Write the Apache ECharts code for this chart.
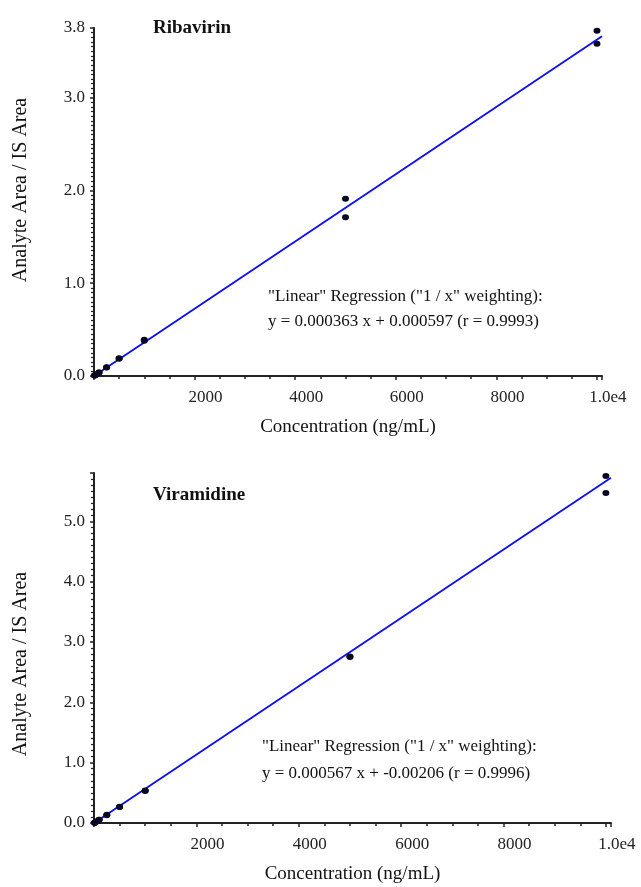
<!DOCTYPE html>
<html><head><meta charset="utf-8">
<script src="https://cdn.jsdelivr.net/npm/echarts@6/dist/echarts.min.js"></script>
<style>html,body{margin:0;padding:0;background:#fff}#c{width:641px;height:887px}</style>
</head><body><div id="c"></div>
<script>
// ---- data ----
const ribavirinConc  = [10, 10, 20, 20, 50, 50, 100, 100, 250, 250, 500, 500, 1000, 1000, 5000, 5000, 10000, 10000];
const ribavirinRatio = [0.0042, 0.0045, 0.0078, 0.0076, 0.019, 0.020, 0.037, 0.038, 0.094, 0.092, 0.19, 0.185, 0.39, 0.38, 1.91, 1.71, 3.72, 3.58];
const ribavirinFitX  = [0, 10100];
const ribavirinFitY  = [0.0006, 3.66];

const viramidineConc  = [10, 10, 20, 20, 50, 50, 100, 100, 250, 250, 500, 500, 1000, 1000, 5000, 5000, 10000, 10000];
const viramidineRatio = [0.0038, 0.0035, 0.0095, 0.0092, 0.026, 0.025, 0.054, 0.055, 0.135, 0.13, 0.27, 0.265, 0.53, 0.54, 2.76, 2.75, 5.75, 5.47];
const viramidineFitX  = [0, 10100];
const viramidineFitY  = [0.0, 5.72];

const xTickLabels = {2000: '2000', 4000: '4000', 6000: '6000', 8000: '8000', 10000: '1.0e4'};
const titles = ['Ribavirin', 'Viramidine'];
const regressionText = [
  ['"Linear" Regression ("1 / x" weighting):', 'y = 0.000363 x + 0.000597 (r = 0.9993)'],
  ['"Linear" Regression ("1 / x" weighting):', 'y = 0.000567 x + -0.00206 (r = 0.9996)']
];
const xName = 'Concentration (ng/mL)';
const yName = 'Analyte Area / IS Area';

// ---- chart ----
const FONT = '"Liberation Serif", "Times New Roman", serif';
const zip = (a, b) => a.map((v, i) => [v, b[i]]);
const chart = echarts.init(document.getElementById('c'), null, {renderer: 'canvas'});

function xAxisCfg(gridIndex) {
  return {
    type: 'value', gridIndex, min: 0, max: 10100, interval: 2000,
    name: xName, nameLocation: 'middle', nameGap: 42,
    nameTextStyle: {fontFamily: FONT, fontSize: 19, color: '#111'},
    axisLine: {show: true, onZero: false, lineStyle: {color: '#222', width: 2}},
    axisTick: {show: true, length: 4, lineStyle: {color: '#222', width: 1.5}},
    minorTick: {show: true, splitNumber: 4, length: 3, lineStyle: {color: '#222', width: 1.5}},
    splitLine: {show: false}, minorSplitLine: {show: false},
    axisLabel: {
      margin: 13, fontFamily: FONT, fontSize: 17, color: '#222',
      padding: [0, 0, 0, 22], showMinLabel: true, showMaxLabel: true, hideOverlap: false,
      formatter: v => xTickLabels[v] || ''
    }
  };
}
function yAxisCfg(gridIndex, max, minorSplit, pad, showMax) {
  return {
    type: 'value', gridIndex, min: 0, max, interval: 1,
    name: yName, nameLocation: 'middle', nameGap: 63,
    nameTextStyle: {fontFamily: FONT, fontSize: 20, color: '#111', padding: pad},
    axisLine: {show: true, onZero: false, lineStyle: {color: '#222', width: 2}},
    axisTick: {show: true, length: 4, lineStyle: {color: '#222', width: 1.5}},
    minorTick: {show: true, splitNumber: minorSplit, length: 3, lineStyle: {color: '#222', width: 1.2}},
    splitLine: {show: false}, minorSplitLine: {show: false},
    axisLabel: {
      margin: 9, fontFamily: FONT, fontSize: 17, color: '#222',
      showMinLabel: true, showMaxLabel: showMax, hideOverlap: false,
      formatter: v => (Math.abs(v - Math.round(v)) < 1e-9 || v === max) ? v.toFixed(1) : ''
    }
  };
}

const option = {
  backgroundColor: '#fff',
  animation: false,
  title: [
    {text: titles[0], left: 148, top: 14, textStyle: {fontFamily: FONT, fontSize: 19, fontWeight: 'bold', color: '#111'}},
    {text: titles[1], left: 148, top: 481, textStyle: {fontFamily: FONT, fontSize: 19, fontWeight: 'bold', color: '#111'}}
  ],
  grid: [
    {left: 94, top: 28, width: 508, height: 348},
    {left: 94, top: 473, width: 517, height: 350}
  ],
  xAxis: [xAxisCfg(0), xAxisCfg(1)],
  yAxis: [
    yAxisCfg(0, 3.75, 20, [0, 0, 0, 24], true),
    yAxisCfg(1, 5.8, 10, [0, 32, 0, 0], false)
  ],
  graphic: [
    {type: 'text', left: 268, top: 288, style: {text: regressionText[0][0], font: '17px ' + FONT, fill: '#111'}},
    {type: 'text', left: 268, top: 313, style: {text: regressionText[0][1], font: '17px ' + FONT, fill: '#111'}},
    {type: 'text', left: 262, top: 738, style: {text: regressionText[1][0], font: '17px ' + FONT, fill: '#111'}},
    {type: 'text', left: 262, top: 765, style: {text: regressionText[1][1], font: '17px ' + FONT, fill: '#111'}}
  ],
  series: [
    {type: 'line', xAxisIndex: 0, yAxisIndex: 0, data: zip(ribavirinFitX, ribavirinFitY), showSymbol: false,
     lineStyle: {color: '#0a0aff', width: 1.8}, z: 2, silent: true},
    {type: 'scatter', xAxisIndex: 0, yAxisIndex: 0, data: zip(ribavirinConc, ribavirinRatio),
     symbol: 'circle', symbolSize: [7, 6], itemStyle: {color: '#080820', opacity: 1}, z: 3},
    {type: 'line', xAxisIndex: 1, yAxisIndex: 1, data: zip(viramidineFitX, viramidineFitY), showSymbol: false,
     lineStyle: {color: '#0a0aff', width: 1.8}, z: 2, silent: true},
    {type: 'scatter', xAxisIndex: 1, yAxisIndex: 1, data: zip(viramidineConc, viramidineRatio),
     symbol: 'circle', symbolSize: [7, 6], itemStyle: {color: '#080820', opacity: 1}, z: 3}
  ]
};
chart.setOption(option);
</script>
</body></html>
